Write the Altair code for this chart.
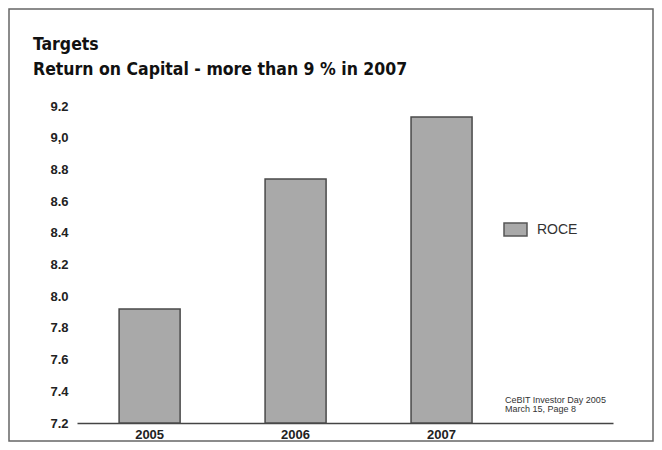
import altair as alt
import pandas as pd

years = ["2005", "2006", "2007"]
roce = [7.92, 8.74, 9.13]
series = ["ROCE", "ROCE", "ROCE"]
y_ticks = [7.2, 7.4, 7.6, 7.8, 8.0, 8.2, 8.4, 8.6, 8.8, 9.0, 9.2]
title_lines = ["Targets", "Return on Capital - more than 9 % in 2007"]
footer_lines = ["CeBIT Investor Day 2005", "March 15, Page 8"]

df = pd.DataFrame({"year": years, "value": roce, "series": series})
foot = pd.DataFrame({"line": footer_lines, "row": [0, 1]})
head = pd.DataFrame({"line": title_lines, "row": [0, 1]})
frame = pd.DataFrame({"k": [1]})

W, H = 536, 317

bars = alt.Chart(df).mark_bar(stroke="#4a4a4a", strokeWidth=1.5).encode(
    x=alt.X(
        "year:N",
        sort=years,
        scale=alt.Scale(paddingInner=0.582, paddingOuter=0.627, align=0.23),
        axis=alt.Axis(
            title=None, labelAngle=0, ticks=False, domainColor="#444444", domainWidth=1.5,
            labelFont="Liberation Sans", labelFontWeight="bold", labelFontSize=13,
            labelColor="#222222", labelPadding=5,
        ),
    ),
    y=alt.Y(
        "value:Q",
        scale=alt.Scale(domain=[7.2, 9.2], zero=False, nice=False),
        axis=alt.Axis(
            title=None, values=y_ticks, ticks=False, domain=False, grid=False,
            labelExpr="datum.value == 9 ? '9,0' : format(datum.value, '.1f')",
            labelFont="Liberation Sans", labelFontWeight="bold", labelFontSize=13,
            labelColor="#222222", labelPadding=9,
        ),
    ),
    y2=alt.datum(7.2),
    color=alt.Color(
        "series:N",
        scale=alt.Scale(range=["#a9a9a9"]),
        legend=alt.Legend(
            title=None, orient="none", legendX=426, legendY=111, padding=0,
            symbolType="M-1,-0.56H1V0.56H-1Z", symbolSize=529,
            symbolStrokeColor="#555555", symbolStrokeWidth=1.5, symbolOpacity=1,
            labelFont="Liberation Sans", labelFontSize=14, labelColor="#333333",
            labelOffset=9,
        ),
    ),
)

footer = alt.Chart(foot).mark_text(
    align="left", baseline="alphabetic", font="Liberation Sans", fontSize=9, color="#333333"
).encode(
    x=alt.value(428),
    y=alt.Y("row:Q", scale=alt.Scale(domain=[0, 1], range=[297, 306]), axis=None),
    text="line:N",
)

header = alt.Chart(head).mark_text(
    align="left", baseline="alphabetic",
    font="DejaVu Sans Condensed",
    fontWeight="bold", fontSize=17.5, color="#111111",
).encode(
    x=alt.value(-44),
    y=alt.Y("row:Q", scale=alt.Scale(domain=[0, 1], range=[-56, -31]), axis=None),
    text="line:N",
)

border = alt.Chart(frame).mark_rect(
    fill=None, stroke="#666666", strokeWidth=1.5, clip=False
).encode(
    x=alt.value(-68), x2=alt.value(576), y=alt.value(-97), y2=alt.value(335)
)

chart = alt.layer(bars, footer, header, border).resolve_scale(y="independent").properties(
    width=W,
    height=H,
    autosize=alt.AutoSizeParams(type="none"),
    padding={"left": 69, "top": 98, "right": 41, "bottom": 19},
).configure_view(stroke=None)

chart.save("out.html", embed_options={"renderer": "svg", "actions": False})
